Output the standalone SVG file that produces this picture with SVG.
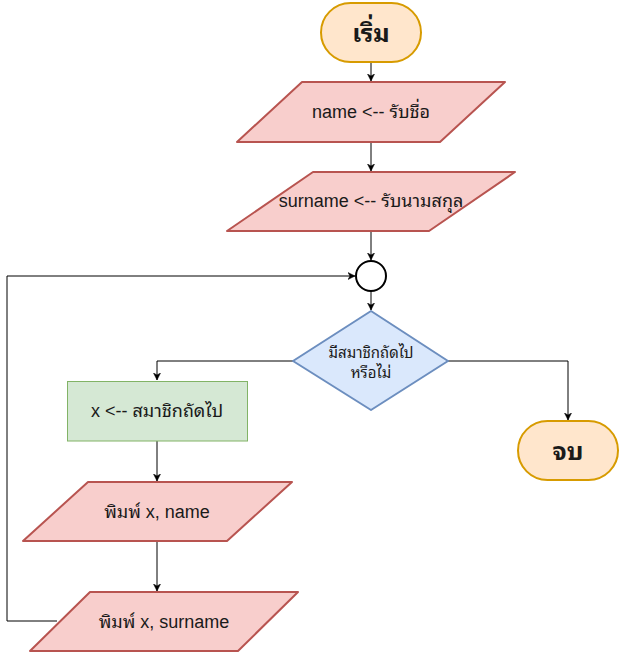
<svg xmlns="http://www.w3.org/2000/svg" width="619" height="652" viewBox="0 0 619 652">
<style>
  text { font-family: "Liberation Sans", Arial, "Noto Sans Thai Looped", "Noto Sans Thai", "Loma", "Garuda", "Noto Sans", sans-serif; font-weight: normal; fill: #1a1a1a; text-anchor: middle; dominant-baseline: central; }
  .term { fill: #ffe6cc; stroke: #d79b00; stroke-width: 2; }
  .io { fill: #f8cecc; stroke: #b85450; stroke-width: 2; stroke-linejoin: round; }
  .proc { fill: #d5e8d4; stroke: #82b366; stroke-width: 1; }
  .dec { fill: #dae8fc; stroke: #6c8ebf; stroke-width: 2; stroke-linejoin: round; }
  .conn { fill: #ffffff; stroke: #000000; stroke-width: 2; }
  .edge { fill: none; stroke: #000000; stroke-width: 1; marker-end: url(#arr); }
  .big { font-size: 25px; font-weight: bold; }
  .mid { font-size: 18px; }
  .small { font-size: 15px; }
</style>
<defs>
  <marker id="arr" markerWidth="8" markerHeight="8" refX="7" refY="4" orient="auto" markerUnits="userSpaceOnUse">
    <path d="M0,0.5 L7,4 L0,7.5 L2,4 Z" fill="#000000" stroke="#000000" stroke-width="0.5"/>
  </marker>
</defs>
<g id="connectors">
  <path class="edge" d="M371,62 L371,81"/>
  <path class="edge" d="M371,142 L371,171"/>
  <path class="edge" d="M371,231 L371,260"/>
  <path class="edge" d="M371,291 L371,310"/>
  <path class="edge" d="M293,361 L157,361 L157,380"/>
  <path class="edge" d="M448,361 L568,361 L568,420"/>
  <path class="edge" d="M157,441 L157,481"/>
  <path class="edge" d="M157,541 L157,591"/>
  <path class="edge" d="M57,621 L7,621 L7,276 L355,276"/>
</g>
<g id="start">
  <rect class="term" x="321" y="3" width="100" height="59" rx="29.5" ry="29.5"/>
  <text class="big" x="371" y="33">เริ่ม</text>
</g>
<g id="input-name">
  <path class="io" d="M302,82 L505,82 L440,142 L237,142 Z"/>
  <text class="mid" x="371" y="112">name &lt;-- รับชื่อ</text>
</g>
<g id="input-surname">
  <path class="io" d="M313,172 L515,172 L429,231 L227,231 Z"/>
  <text class="mid" x="371" y="201">surname &lt;-- รับนามสกุล</text>
</g>
<g id="junction">
  <circle class="conn" cx="371" cy="276" r="15"/>
</g>
<g id="decision">
  <path class="dec" d="M371,311 L448,361 L371,410 L293,361 Z"/>
  <text class="small" x="371" y="352">มีสมาชิกถัดไป</text>
  <text class="small" x="371" y="372">หรือไม่</text>
</g>
<g id="assign-x">
  <rect class="proc" x="67.5" y="381.5" width="180" height="59.5"/>
  <text class="mid" x="157" y="411">x &lt;-- สมาชิกถัดไป</text>
</g>
<g id="print-name">
  <path class="io" d="M88,482 L292,482 L227,541 L23,541 Z"/>
  <text class="mid" x="157" y="512">พิมพ์ x, name</text>
</g>
<g id="print-surname">
  <path class="io" d="M90,592 L298,592 L238,651 L30,651 Z"/>
  <text class="mid" x="164" y="622">พิมพ์ x, surname</text>
</g>
<g id="end">
  <rect class="term" x="518" y="421" width="100" height="59" rx="29.5" ry="29.5"/>
  <text class="big" x="568" y="451">จบ</text>
</g>
</svg>
